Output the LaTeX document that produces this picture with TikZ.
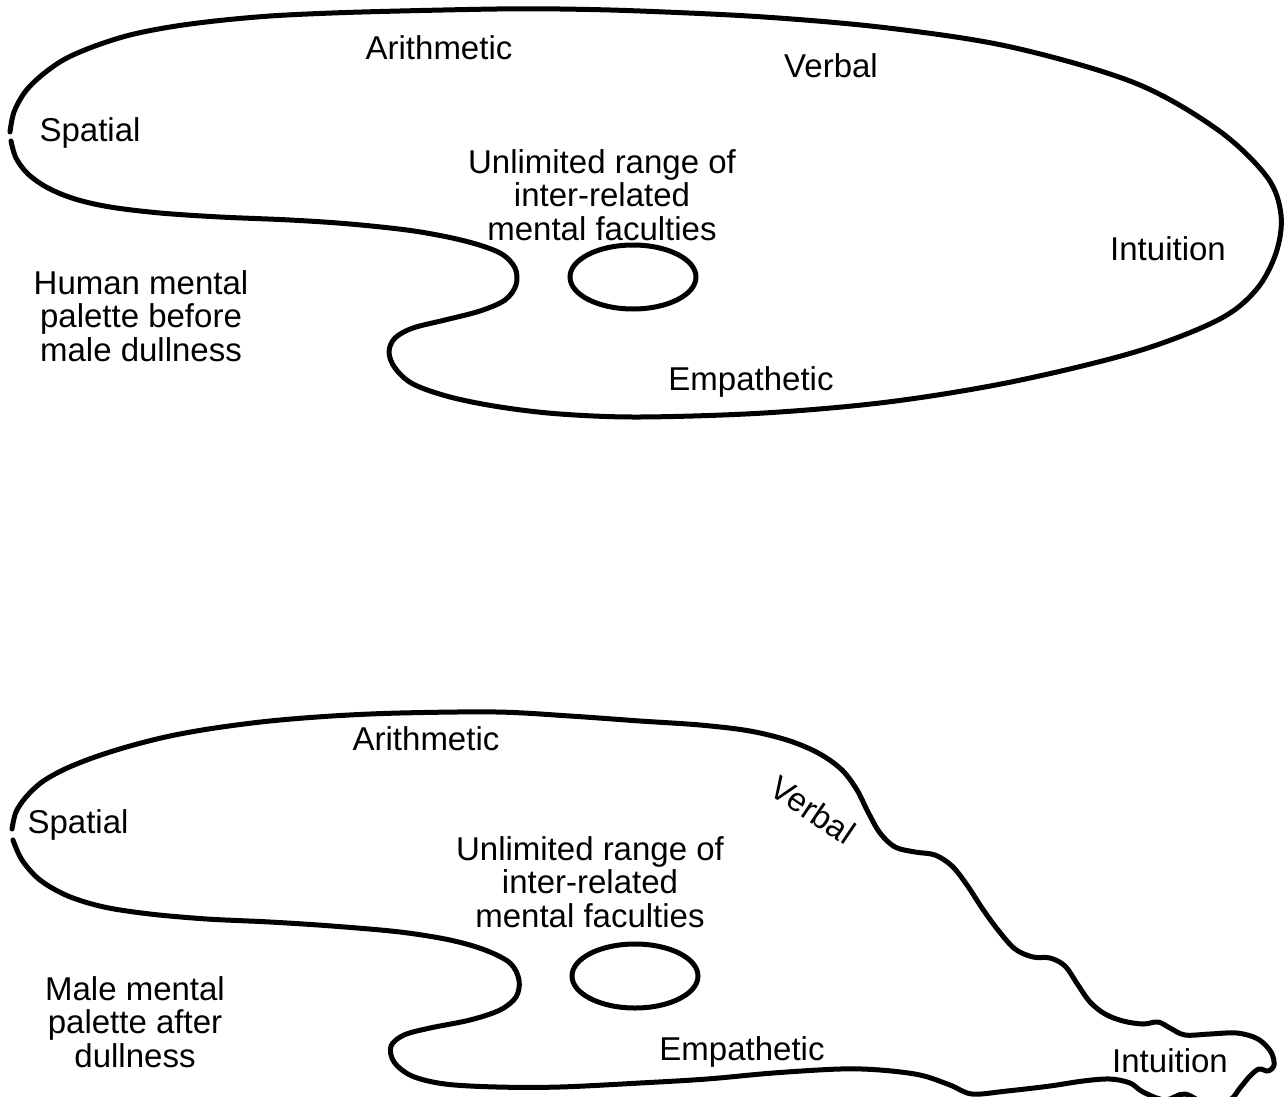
\documentclass[tikz,border=0pt]{standalone}
\usepackage{fontspec}
\setmainfont{Liberation Sans}
\usetikzlibrary{shapes.geometric}
\begin{document}
\begin{tikzpicture}[x=1pt,y=-1pt,
  outline/.style={line width=5pt, line cap=round, line join=round},
  hole/.style={draw, ellipse, line width=5pt, minimum width=126pt, minimum height=64pt, inner sep=0pt},
  lab/.style={inner sep=0pt, font=\fontsize{33}{33.5}\selectfont},
  blocklab/.style={lab, align=center, anchor=north}]
\useasboundingbox (0,0) rectangle (1287,1097);
\fill[white] (0,0) rectangle (1287,1097);

% ---------- upper palette ----------
\draw[outline] plot[smooth, tension=0.55] coordinates {
 (11,141) (16,158) (28,174) (48,188) (75,199) (110,207) (160,213) (220,217)
 (290,220) (350,224) (414,231) (465,241) (500,253) (515,268) (516,285) (505,300)
 (480,311) (445,320) (413,328) (395,338) (389,352) (395,368) (413,384) (450,397)
 (500,407) (560,414) (640,417) (764,413) (888,402) (1011,382) (1135,352)
 (1218,320) (1256,290) (1276,253) (1281,215) (1267,177) (1218,130) (1135,83)
 (1011,47) (888,28) (764,17) (640,11) (560,9) (497,9) (400,11) (332,13) (270,16)
 (215,21) (170,27) (130,35) (95,46) (65,59) (42,75) (25,92) (14,112) (10,132)};
\node[hole] (hole1) at (633,277) {};

\node[lab, anchor=base] (arith1) at (439,60) {Arithmetic};
\node[lab, anchor=base] (verb1) at (831,78) {Verbal};
\node[lab, anchor=base] (spat1) at (90,142) {Spatial};
\node[lab, anchor=base] (intu1) at (1168,260) {Intuition};
\node[lab, anchor=base] (emp1) at (751,390) {Empathetic};
\node[blocklab] (unl1) at (602,149) {Unlimited range of\\inter-related\\mental faculties};
\node[blocklab] (cap1) at (141,270) {Human mental\\palette before\\male dullness};

% ---------- lower palette ----------
\draw[outline] plot[smooth, tension=0.55] coordinates {
 (12,829) (16,812) (26,797) (42,782) (65,769) (95,757) (130,746) (170,736)
 (215,728) (270,721) (332,716) (400,713) (497,712) (570,716) (640,721) (700,725)
 (750,731) (790,741) (820,754) (842,770) (857,790) (868,812) (880,833) (895,847)
 (915,852) (935,855) (952,866) (967,885) (982,908) (998,930) (1015,949)
 (1033,957) (1050,958) (1065,966) (1078,985) (1090,1002) (1105,1014) (1123,1021)
 (1143,1024) (1158,1022) (1170,1028) (1185,1035) (1210,1034) (1237,1033)
 (1258,1039) (1271,1052) (1274,1065) (1268,1071) (1259,1069) (1250,1076)
 (1240,1088) (1230,1100) (1210,1106) (1185,1094) (1165,1100) (1143,1092)
 (1130,1083) (1110,1079) (1083,1081) (1050,1086) (1007,1091) (972,1094)
 (950,1085) (920,1075) (880,1070) (840,1069) (773,1073) (707,1079) (640,1083)
 (560,1087) (497,1087) (445,1084) (412,1076) (394,1062) (391,1046) (404,1035)
 (430,1028) (470,1020) (500,1010) (516,997) (519,980) (510,963) (485,950)
 (450,940) (400,932) (332,926) (270,922) (207,919) (150,914) (104,907) (68,896)
 (40,880) (22,860) (13,840)};
\node[hole] (hole2) at (635,976) {};

\node[lab, anchor=base] (arith2) at (426,750) {Arithmetic};
\node[lab, rotate=-34] (verb2) at (813,810) {Verbal};
\node[lab, anchor=base] (spat2) at (78,833) {Spatial};
\node[lab, anchor=base] (intu2) at (1170,1072) {Intuition};
\node[lab, anchor=base] (emp2) at (742,1060) {Empathetic};
\node[blocklab] (unl2) at (590,836) {Unlimited range of\\inter-related\\mental faculties};
\node[blocklab] (cap2) at (135,976) {Male mental\\palette after\\dullness};
\end{tikzpicture}
\end{document}
